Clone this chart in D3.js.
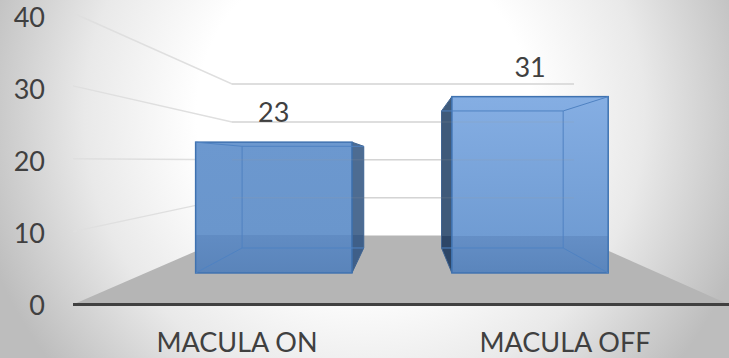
<!DOCTYPE html>
<html><head><meta charset="utf-8">
<script src="https://cdn.jsdelivr.net/npm/d3@7"></script>
<style>html,body{margin:0;padding:0;background:#fff}svg{display:block}text{font-family:Lato,sans-serif;fill:#404040}</style>
</head><body><svg id="c" width="729" height="358"></svg>
<script>
const categories = ["MACULA ON", "MACULA OFF"];
const values = [23, 31];
const tickValues = [0, 10, 20, 30, 40];

const W = 729, H = 358;
const svg = d3.select("#c");
const defs = svg.append("defs");

const bg = defs.append("radialGradient").attr("id","bg").attr("gradientUnits","userSpaceOnUse")
  .attr("cx",W/2).attr("cy",H*0.32).attr("r",400);
[[0,"#ffffff"],[0.42,"#ffffff"],[0.7,"#e9e9e9"],[1,"#bdbdbd"]].forEach(s=>bg.append("stop").attr("offset",s[0]).attr("stop-color",s[1]));
svg.append("rect").attr("width",W).attr("height",H).attr("fill","url(#bg)");

// 3D projection: value scale on front and back walls, interpolated by depth
const yFront = d3.scaleLinear().domain([0,40]).range([304.5,13]);
const yBack  = d3.scaleLinear().domain([0,40]).range([235.5,84]);
const yLabel = d3.scaleLinear().domain([0,40]).range([306,18]);
const xLeft  = d3.scaleLinear().domain([0,1]).range([73,232]);
const xRight = d3.scaleLinear().domain([0,1]).range([729,574]);
const xBand  = d3.scaleBand().domain(categories).range([0,1]).paddingInner(0.39).paddingOuter(0.195);
const P = (frac,v,d)=>[
  d3.interpolateNumber(xLeft(d),xRight(d))(frac),
  d3.interpolateNumber(yFront(v),yBack(v))(d)
];
const path = pts=>"M"+pts.map(p=>p.join(",")).join("L")+"Z";

// floor
svg.append("path").attr("d",path([P(0,0,0),P(0,0,1),P(1,0,1),P(1,0,0)])).attr("fill","#b5b5b5");

// gridlines
const line = d3.line();
const gridTicks = tickValues.filter(t=>t>0);
svg.selectAll(".grid").data(gridTicks).join("path").attr("class","grid")
  .attr("fill","none").attr("stroke","#dfdfdf").attr("stroke-width",1.5)
  .attr("d",t=>line([P(0,t,0),P(0,t,1),P(1,t,1)]));

// axis line
svg.append("line").attr("x1",73).attr("x2",729).attr("y1",yFront(0)).attr("y2",yFront(0))
  .attr("stroke","#404040").attr("stroke-width",3);

// value axis labels
const yAxis = d3.axisLeft(yLabel).tickValues(tickValues).tickSize(0).tickPadding(0);
svg.append("g").attr("transform","translate(45,0)").call(yAxis)
  .call(g=>g.select(".domain").remove())
  .call(g=>g.selectAll("text").attr("font-size",27).attr("font-family","Lato").attr("fill","#404040"));

// bars
const D1=0.457, D2=0.819;
const topFill=["#6c98cf","#85aee3"], midFill=["#6a96cc","#709cd3"], lowFill=["#618cc3","#658fc6"], botFill=["#5a84ba","#5a85bc"];
const sideTop=["#4d6c92","#3f5a7a"], sideBot=["#3f5f88","#2d4667"];
categories.forEach((c,i)=>{
  const a=xBand(c), b=a+xBand.bandwidth(), v=values[i];
  const topY=P(a,v,D1)[1], botY=P(a,0,D1)[1], split=(yBack(0)-topY)/(botY-topY);
  const id="bar"+i;
  const g=defs.append("linearGradient").attr("id",id).attr("x1",0).attr("x2",0).attr("y1",0).attr("y2",1);
  g.append("stop").attr("offset",0).attr("stop-color",topFill[i]);
  g.append("stop").attr("offset",split).attr("stop-color",midFill[i]);
  g.append("stop").attr("offset",split).attr("stop-color",lowFill[i]);
  g.append("stop").attr("offset",1).attr("stop-color",botFill[i]);
  const sf=i===0?b:a;
  const sTop=Math.min(P(sf,v,D1)[1],P(sf,v,D2)[1]);
  const sBot=P(sf,0,D1)[1];
  const sSplit=(yBack(0)-sTop)/(sBot-sTop);
  const sg=defs.append("linearGradient").attr("id","side"+i).attr("x1",0).attr("x2",0).attr("y1",0).attr("y2",1);
  sg.append("stop").attr("offset",sSplit).attr("stop-color",sideTop[i]);
  sg.append("stop").attr("offset",sSplit).attr("stop-color",sideBot[i]);
  const G=svg.append("g");
  G.append("path").attr("d",path([P(sf,0,D1),P(sf,0,D2),P(sf,v,D2),P(sf,v,D1)]))
    .attr("fill","url(#side"+i+")").attr("stroke","#3f6492").attr("stroke-width",1);
  G.append("rect")
    .attr("x",P(a,v,D1)[0]).attr("y",topY)
    .attr("width",P(b,v,D1)[0]-P(a,v,D1)[0]).attr("height",botY-topY)
    .attr("fill","url(#"+id+")").attr("stroke","#3f72b0").attr("stroke-width",1.5);
  const far=i===0?a:b;
  [[P(a,v,D2),P(b,v,D2)],[P(a,0,D2),P(b,0,D2)],[P(far,v,D2),P(far,0,D2)],
   [P(far,v,D1),P(far,v,D2)],[P(far,0,D1),P(far,0,D2)]]
   .forEach(s=>G.append("path").attr("d",line(s)).attr("fill","none").attr("stroke","#4f82c2").attr("stroke-width",1));
  const front=P(a+xBand.bandwidth()/2,v,D1);
  svg.append("text").attr("x",front[0]).attr("y",front[1]-20).attr("text-anchor","middle").attr("font-size",27).text(v);
  const cx=P(a+xBand.bandwidth()/2,0,0)[0];
  svg.append("text").attr("x",cx).attr("y",352).attr("text-anchor","middle").attr("font-size",27).text(c);
});

// gridlines faintly visible through the translucent bars
svg.selectAll(".gridOver").data(gridTicks).join("path").attr("class","gridOver")
  .attr("fill","none").attr("stroke","#999999").attr("stroke-opacity",0.15).attr("stroke-width",1.5)
  .attr("d",t=>line([P(0,t,1),P(1,t,1)]));
</script></body></html>
